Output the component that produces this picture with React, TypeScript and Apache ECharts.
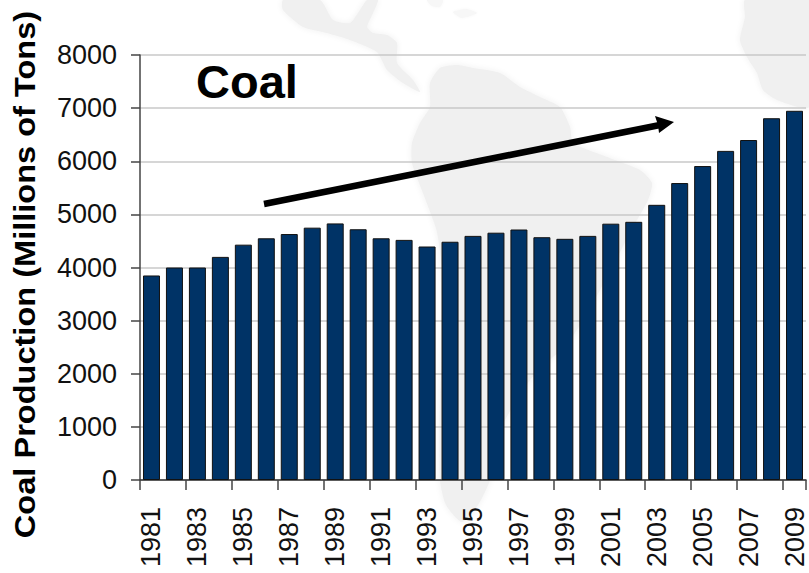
import React, { useEffect, useRef } from "react";
import * as echarts from "echarts";

const years = [
  "1981", "1982", "1983", "1984", "1985", "1986", "1987", "1988", "1989", "1990",
  "1991", "1992", "1993", "1994", "1995", "1996", "1997", "1998", "1999", "2000",
  "2001", "2002", "2003", "2004", "2005", "2006", "2007", "2008", "2009",
];
const coalProduction = [
  3850, 4000, 4000, 4200, 4430, 4550, 4630, 4750, 4830, 4720,
  4550, 4520, 4395, 4485, 4595, 4655, 4715, 4570, 4540, 4595,
  4825, 4860, 5180, 5590, 5910, 6195, 6400, 6810, 6950,
];
const valueAxisTitle = "Coal Production (Millions of Tons)";

const FONT = "'Liberation Sans', Arial, sans-serif";
const LAND = "#f0f0f0";

// Backdrop landmasses, in page pixels
const centralAmerica = [
  [283, 0], [283, 10], [303, 27], [327, 33], [350, 40], [377, 52], [387, 70], [403, 83], [420, 92],
  [413, 80], [397, 63], [397, 43], [387, 35], [373, 33], [367, 27], [373, 13], [378, 0],
  [367, 0], [360, 10], [350, 23], [333, 20], [320, 0],
];
const southAmerica = [
  [430, 83], [440, 68], [457, 65], [473, 68], [500, 73], [520, 87], [540, 97], [560, 107], [570, 127],
  [573, 143], [607, 157], [640, 170], [652, 183], [648, 200], [633, 227], [600, 290], [570, 340],
  [530, 380], [500, 430], [490, 480], [478, 505], [462, 522], [446, 505], [440, 480], [440, 400],
  [445, 300], [437, 232], [423, 193], [412, 163], [412, 143], [420, 123], [430, 107],
];
const africa = [
  [745, 0], [745, 17], [740, 40], [747, 57], [757, 73], [763, 90], [777, 100], [809, 107], [809, 0],
];
const caribbean = [
  [[427, 0], [443, 0], [440, 7], [432, 6]],
  [[453, 12], [466, 9], [477, 13], [462, 18]],
];

const land = (points: number[][], fill: string, soft = 6) => ({
  type: "polygon",
  silent: true,
  z: -10,
  shape: { points, smooth: 0.2 },
  style: { fill, shadowColor: fill, shadowBlur: soft },
});

export default function App() {
  const ref = useRef<HTMLDivElement>(null);

  useEffect(() => {
    const chart = echarts.init(ref.current!, undefined, { renderer: "svg" });
    chart.setOption({
      animation: false,
      backgroundColor: "#ffffff",
      title: {
        text: "Coal",
        left: 191,
        top: 53,
        textStyle: { fontFamily: FONT, fontWeight: "bold", fontSize: 47, color: "#000" },
      },
      grid: { left: 140, right: 3, top: 55, bottom: 93, containLabel: false },
      xAxis: {
        type: "category",
        data: years,
        axisLine: { show: true, lineStyle: { color: "#333", width: 1.5 } },
        axisTick: { show: true, alignWithLabel: false, length: 10, lineStyle: { color: "#444", width: 1.5 } },
        axisLabel: {
          interval: 1,
          rotate: 90,
          margin: 27,
          fontFamily: FONT,
          fontSize: 27,
          color: "#111",
        },
      },
      yAxis: {
        type: "value",
        min: 0,
        max: 8000,
        interval: 1000,
        axisLine: { show: true, lineStyle: { color: "#444", width: 1.5 } },
        axisTick: { show: true, length: 9, lineStyle: { color: "#444", width: 1.5 } },
        axisLabel: {
          margin: 23,
          fontFamily: FONT,
          fontSize: 27,
          color: "#111",
          formatter: (v: number) => String(v),
        },
        splitLine: { show: true, lineStyle: { color: "#c8c8c8", width: 1.5 } },
      },
      series: [
        {
          type: "bar",
          data: coalProduction,
          barCategoryGap: "26%",
          itemStyle: { color: "#003366", borderColor: "#111", borderWidth: 1 },
        },
      ],
      graphic: [
        land(centralAmerica, LAND),
        land(southAmerica, LAND),
        land(africa, LAND),
        ...caribbean.map((c) => land(c, "#f7f7f7", 3)),
        {
          // Rotated value-axis title, stretched along its run
          type: "text",
          silent: true,
          z: 20,
          x: 24.5,
          y: 274.5,
          rotation: Math.PI / 2,
          scaleX: 1.085,
          style: {
            text: valueAxisTitle,
            fontFamily: FONT,
            fontWeight: "bold",
            fontSize: 30,
            fill: "#000",
            align: "center",
            verticalAlign: "middle",
          },
        },
        {
          type: "line",
          silent: true,
          z: 20,
          shape: { x1: 264, y1: 204, x2: 660, y2: 125 },
          style: { stroke: "#000", lineWidth: 6.5 },
        },
        {
          type: "polygon",
          silent: true,
          z: 21,
          shape: { points: [[674, 122], [655, 116], [658, 125], [659, 133]] },
          style: { fill: "#000" },
        },
      ],
    });
    return () => chart.dispose();
  }, []);

  return <div ref={ref} style={{ position: "fixed", left: 0, top: 0, width: 809, height: 573 }} />;
}
